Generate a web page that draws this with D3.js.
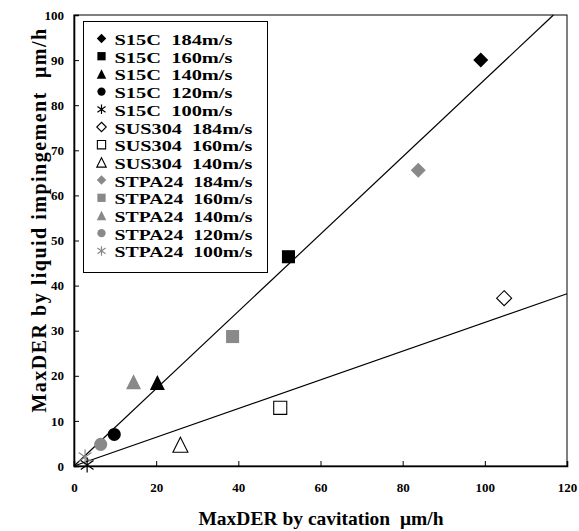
<!DOCTYPE html>
<html>
<head>
<meta charset="utf-8">
<script src="https://cdn.jsdelivr.net/npm/d3@7"></script>
<style>
  body { margin: 0; background: #fff; }
  text { font-family: "Liberation Serif", "Times New Roman", serif; font-weight: bold; }
</style>
</head>
<body>
<svg id="chart" width="579" height="531"></svg>
<script>
// series
const seriesNames = [
  "S15C  184m/s", "S15C  160m/s", "S15C  140m/s", "S15C  120m/s", "S15C  100m/s",
  "SUS304  184m/s", "SUS304  160m/s", "SUS304  140m/s",
  "STPA24  184m/s", "STPA24  160m/s", "STPA24  140m/s", "STPA24  120m/s", "STPA24  100m/s"
];
const cavitation = [99.0, 52.2, 20.3, 9.8, 3.2, 104.7, 50.2, 25.9, 83.8, 38.6, 14.5, 6.5, 2.7];
const impingement = [90.0, 46.4, 18.5, 7.0, 0.2, 37.2, 12.9, 4.7, 65.6, 28.7, 18.7, 4.8, 2.0];
const shapes = ["diamond", "square", "triangle", "circle", "asterisk",
                "diamond", "square", "triangle",
                "diamond", "square", "triangle", "circle", "asterisk"];
const colors = ["black", "black", "black", "black", "black",
                "open", "open", "open",
                "gray", "gray", "gray", "gray", "gray"];

// fitted lines (end points)
const fitLines = [
  [[0, 0], [116.7, 100]],
  [[0, 0], [120, 38.2]]
];

const xTicks = [0, 20, 40, 60, 80, 100, 120];
const yTicks = [0, 10, 20, 30, 40, 50, 60, 70, 80, 90, 100];

const width = 579, height = 531;
const margin = {top: 15, right: 12, bottom: 65, left: 74};
const gray = "#898989";

const svg = d3.select("#chart");

const x = d3.scaleLinear().domain([0, 120]).range([margin.left, width - margin.right]);
const y = d3.scaleLinear().domain([0, 100]).range([height - margin.bottom, margin.top]);

// frame
svg.append("rect")
  .attr("x", x(0)).attr("y", y(100))
  .attr("width", x(120) - x(0)).attr("height", y(0) - y(100))
  .attr("fill", "none").attr("stroke", "black").attr("stroke-width", 1);

const xAxis = svg.append("g")
  .attr("transform", `translate(0,${y(0)})`)
  .call(d3.axisBottom(x).tickValues(xTicks).tickSize(-5).tickPadding(17).tickFormat(d3.format("d")));
const yAxis = svg.append("g")
  .attr("transform", `translate(${x(0)},0)`)
  .call(d3.axisLeft(y).tickValues(yTicks).tickSize(-5).tickPadding(10).tickFormat(d3.format("d")));

[xAxis, yAxis].forEach(a => {
  a.select(".domain").attr("stroke-width", 1.6);
  a.selectAll(".tick line").attr("stroke-width", 1);
  a.selectAll("text").attr("font-size", 13).attr("fill", "black")
    .style("font-family", "'Liberation Serif', serif").style("font-weight", "bold");
});

// lines
const line = d3.line().x(d => x(d[0])).y(d => y(d[1]));
svg.selectAll(".fit").data(fitLines).join("path")
  .attr("class", "fit")
  .attr("d", line)
  .attr("fill", "none").attr("stroke", "black").attr("stroke-width", 1.2);

// marker shapes
function markerPath(shape, s) {
  const h = s / 2;
  if (shape === "diamond") return `M0,${-h}L${h},0L0,${h}L${-h},0Z`;
  if (shape === "square") { const q = h * 0.87; return `M${-q},${-q}H${q}V${q}H${-q}Z`; }
  if (shape === "triangle") return `M0,${-h}L${h},${h}L${-h},${h}Z`;
  if (shape === "circle") { const r = h * 0.87; return `M${r},0A${r},${r},0,1,1,${-r},0A${r},${r},0,1,1,${r},0Z`; }
  // asterisk: vertical + X
  const a = h * 0.85, b = h * 0.6;
  return `M0,${-h}V${h}M${-a},${-b}L${a},${b}M${-a},${b}L${a},${-b}`;
}
function styleMarker(sel, i) {
  const c = colors[i];
  if (shapes[i] === "asterisk") {
    sel.attr("fill", "none").attr("stroke", c === "gray" ? gray : "black").attr("stroke-width", 1.2);
  } else if (c === "open") {
    sel.attr("fill", "white").attr("stroke", "black").attr("stroke-width", 1.1);
  } else {
    sel.attr("fill", c === "gray" ? gray : "black").attr("stroke", "none");
  }
}

const idx = d3.range(seriesNames.length);

// legend
const leg = svg.append("g");
leg.append("rect")
  .attr("x", 83.5).attr("y", 21.5).attr("width", 184).attr("height", 251)
  .attr("fill", "white").attr("stroke", "black").attr("stroke-width", 1);
const rowH = 17.7;
const rows = leg.selectAll(".row").data(idx).join("g")
  .attr("class", "row")
  .attr("transform", i => `translate(0,${39.5 + i * rowH})`);
rows.append("path")
  .attr("transform", "translate(101.5,-1)")
  .attr("d", i => markerPath(shapes[i], 9.5))
  .each(function(i) { styleMarker(d3.select(this), i); });
rows.append("text")
  .attr("x", 114.5).attr("y", 5.5)
  .attr("font-size", 15)
  .attr("textLength", i => seriesNames[i].startsWith("S15C") ? 118 : 138)
  .attr("lengthAdjust", "spacingAndGlyphs")
  .style("white-space", "pre")
  .text(i => seriesNames[i]);

// points (drawn in reverse so black ones sit on top)
svg.selectAll(".pt").data(idx.slice().reverse()).join("path")
  .attr("class", "pt")
  .attr("transform", i => `translate(${x(cavitation[i])},${y(impingement[i])})`)
  .attr("d", i => markerPath(shapes[i], 15))
  .each(function(i) { styleMarker(d3.select(this), i); });

// axis titles
svg.append("text")
  .attr("x", 321).attr("y", 525)
  .attr("text-anchor", "middle").attr("font-size", 19.5)
  .style("white-space", "pre")
  .text("MaxDER by cavitation  \u03bcm/h");
svg.append("text")
  .attr("transform", "translate(46,220) rotate(-90)")
  .attr("text-anchor", "middle").attr("font-size", 20)
  .attr("letter-spacing", 1.5)
  .style("white-space", "pre")
  .text("MaxDER by liquid impingement  \u03bcm/h");
</script>
</body>
</html>
